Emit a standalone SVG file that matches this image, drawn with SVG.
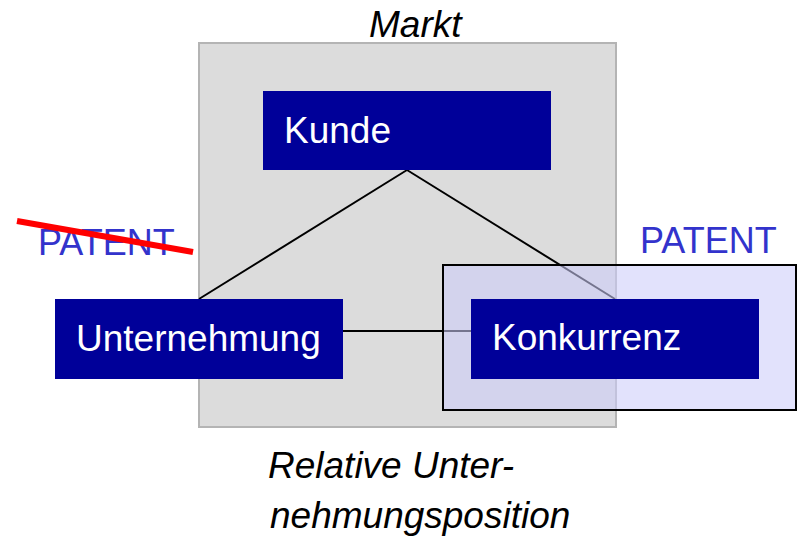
<svg xmlns="http://www.w3.org/2000/svg" width="801" height="542" viewBox="0 0 801 542">
<style>
text{font-family:"Liberation Sans",Arial,sans-serif;font-size:37px}
.node rect{fill:#000099}
.node text{fill:#ffffff}
.lbl{fill:#000000;font-style:italic}
.pat{fill:#3333cc;font-size:36px}
.conn line{stroke:#000000;stroke-width:2}
</style>
<rect width="801" height="542" fill="#ffffff"/>
<g id="markt">
<rect x="199" y="43" width="417" height="384" fill="#dcdcdc" stroke="#b4b4b4" stroke-width="2"/>
<text class="lbl" x="369" y="37">Markt</text>
</g>
<g id="connectors" class="conn">
<line x1="407" y1="170" x2="199" y2="299"/>
<line x1="407" y1="170" x2="615" y2="299"/>
<line x1="343" y1="331" x2="471" y2="331"/>
</g>
<g id="patent-box">
<rect x="443" y="265" width="353" height="145" fill="#ccccfa" fill-opacity="0.57" stroke="#000000" stroke-width="2"/>
<text class="pat" x="640" y="253">PATENT</text>
</g>
<g id="patent-struck">
<text class="pat" x="38" y="255">PATENT</text>
<line x1="17" y1="221" x2="193" y2="252" stroke="#ff0000" stroke-width="6"/>
</g>
<g id="kunde" class="node">
<rect x="263" y="91" width="288" height="79"/>
<text x="284" y="143">Kunde</text>
</g>
<g id="unternehmung" class="node">
<rect x="55" y="299" width="288" height="80"/>
<text x="76" y="351">Unternehmung</text>
</g>
<g id="konkurrenz" class="node">
<rect x="471" y="299" width="288" height="80"/>
<text x="492" y="350">Konkurrenz</text>
</g>
<g id="caption">
<text class="lbl" x="268" y="478">Relative Unter-</text>
<text class="lbl" x="270" y="528">nehmungsposition</text>
</g>
</svg>
